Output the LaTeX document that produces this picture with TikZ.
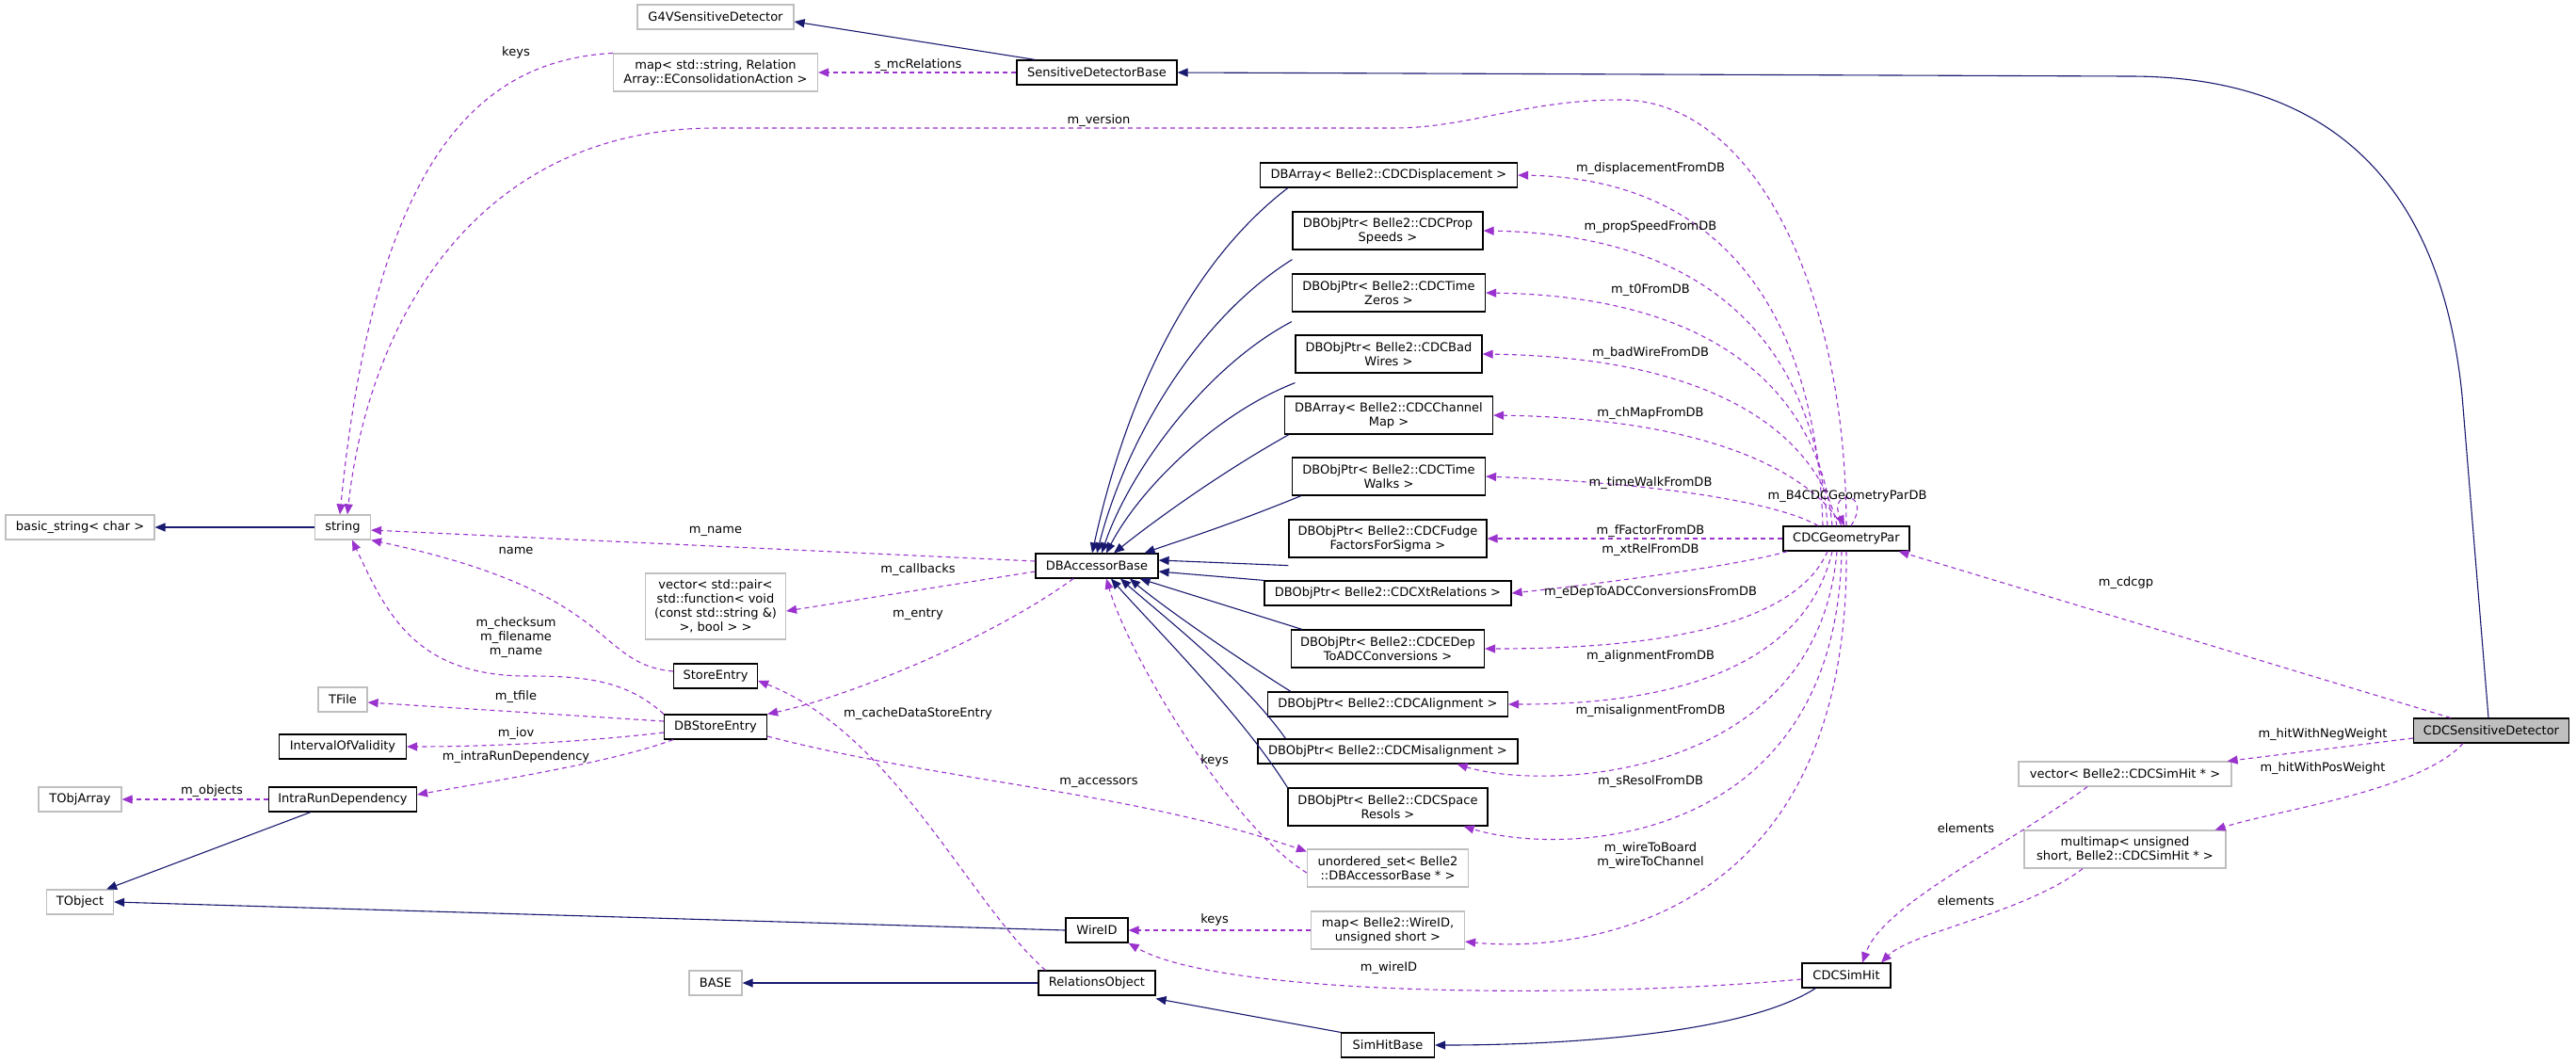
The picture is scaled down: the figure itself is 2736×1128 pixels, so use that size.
\documentclass[tikz,border=0pt]{standalone}
\usepackage{fontspec}
\setmainfont{DejaVu Sans}
\usepackage{tikz}
\usetikzlibrary{arrows.meta}
\definecolor{inhcol}{HTML}{191970}
\definecolor{usecol}{HTML}{9A32CD}
\definecolor{extcol}{HTML}{BFBFBF}

\begin{document}
\begin{tikzpicture}[x=1pt,y=-1pt,
	cls/.style={draw=black, line width=1.2pt, fill=white, inner sep=2pt, minimum height=26, align=center, font=\fontsize{13}{15}\selectfont},
	ext/.style={cls, draw=extcol},
	inh/.style={draw=inhcol, line width=1.1pt, -{Triangle[length=11pt,width=9pt]}},
	use/.style={draw=usecol, line width=1.1pt, dash pattern=on 5pt off 4pt, -{Triangle[length=11pt,width=9pt]}},
	lbl/.style={inner sep=0pt, align=center, font=\fontsize{13}{15}\selectfont}]
	\useasboundingbox (0,0) rectangle (2736,1128);

	\node[ext, minimum width=166] (g4v) at (760,18) {G4VSensitiveDetector};
	\node[ext, minimum width=217, minimum height=40] (rmap) at (760,77) {map< std::string, Relation\\Array::EConsolidationAction >};
	\node[cls, minimum width=170] (sdb) at (1165,77) {SensitiveDetectorBase};
	\node[ext, minimum width=158] (bstr) at (85,560) {basic\_string< char >};
	\node[ext, minimum width=59] (str) at (364,560) {string};
	\node[cls, minimum width=130] (dba) at (1165,601) {DBAccessorBase};
	\node[ext, minimum width=149, minimum height=70] (vpair) at (760,644) {vector< std::pair<\\std::function< void\\(const std::string \&)\\>, bool > >};
	\node[cls, minimum width=89] (se) at (760,718) {StoreEntry};
	\node[cls, minimum width=109] (dse) at (760,772) {DBStoreEntry};
	\node[ext, minimum width=52] (tfile) at (364,743) {TFile};
	\node[cls, minimum width=135] (iov) at (364,793) {IntervalOfValidity};
	\node[ext, minimum width=88] (toa) at (85,849) {TObjArray};
	\node[cls, minimum width=157] (ird) at (364,849) {IntraRunDependency};
	\node[ext, minimum width=71] (tobj) at (85,958) {TObject};
	\node[cls, minimum width=66] (wid) at (1165,988) {WireID};
	\node[ext, minimum width=56] (base) at (760,1044) {BASE};
	\node[cls, minimum width=124] (rob) at (1165,1044) {RelationsObject};

	\node[cls, minimum width=273] (disp) at (1475,186) {DBArray< Belle2::CDCDisplacement >};
	\node[cls, minimum width=202, minimum height=40] (prop) at (1474,245) {DBObjPtr< Belle2::CDCProp\\Speeds >};
	\node[cls, minimum width=205, minimum height=40] (zero) at (1475,311) {DBObjPtr< Belle2::CDCTime\\Zeros >};
	\node[cls, minimum width=198, minimum height=40] (bad) at (1475,376) {DBObjPtr< Belle2::CDCBad\\Wires >};
	\node[cls, minimum width=221, minimum height=40] (chm) at (1475,441) {DBArray< Belle2::CDCChannel\\Map >};
	\node[cls, minimum width=205, minimum height=40] (walk) at (1475,506) {DBObjPtr< Belle2::CDCTime\\Walks >};
	\node[cls, minimum width=210, minimum height=40] (fudge) at (1474,572) {DBObjPtr< Belle2::CDCFudge\\FactorsForSigma >};
	\node[cls, minimum width=262] (xt) at (1474,630) {DBObjPtr< Belle2::CDCXtRelations >};
	\node[cls, minimum width=205, minimum height=40] (edep) at (1474,689) {DBObjPtr< Belle2::CDCEDep\\ToADCConversions >};
	\node[cls, minimum width=255] (align) at (1474,748) {DBObjPtr< Belle2::CDCAlignment >};
	\node[cls, minimum width=276] (mis) at (1474,798) {DBObjPtr< Belle2::CDCMisalignment >};
	\node[cls, minimum width=212, minimum height=40] (spr) at (1474,857) {DBObjPtr< Belle2::CDCSpace\\Resols >};
	\node[ext, minimum width=171, minimum height=40] (uset) at (1474,922) {unordered\_set< Belle2\\::DBAccessorBase * >};
	\node[ext, minimum width=163, minimum height=40] (wmap) at (1474,988) {map< Belle2::WireID,\\unsigned short >};
	\node[cls, minimum width=99] (shb) at (1474,1110) {SimHitBase};

	\node[cls, minimum width=134] (cgp) at (1961,572) {CDCGeometryPar};
	\node[cls, minimum width=94] (csh) at (1961,1036) {CDCSimHit};
	\node[ext, minimum width=226] (vhit) at (2257,822) {vector< Belle2::CDCSimHit * >};
	\node[ext, minimum width=214, minimum height=40] (mmap) at (2257,902) {multimap< unsigned\\short, Belle2::CDCSimHit * >};
	\node[cls, fill=extcol, minimum width=165] (csd) at (2646,776) {CDCSensitiveDetector};

	\draw[inh] ([xshift=20]sdb.north west) -- ([yshift=-5]g4v.east);
	\draw[inh] ([xshift=-3]csd.north) -- (2615,420) .. controls (2590,170) and (2450,81) .. (2262,81) -- (sdb.east);
	\draw[inh] (str.west) -- (bstr.east);
	\draw[inh] ([xshift=30]disp.south west) .. controls (1250,290) and (1190,450) .. ([xshift=-5]dba.north);
	\draw[inh] ([yshift=-10]prop.south west) .. controls (1270,340) and (1195,470) .. ([xshift=0]dba.north);
	\draw[inh] ([yshift=-10]zero.south west) .. controls (1280,390) and (1200,500) .. ([xshift=5]dba.north);
	\draw[inh] ([yshift=-10]bad.south west) .. controls (1290,440) and (1210,520) .. ([xshift=10]dba.north);
	\draw[inh] ([xshift=5]chm.south west) .. controls (1300,500) and (1230,550) .. ([xshift=18]dba.north);
	\draw[inh] ([xshift=10]walk.south west) .. controls (1300,560) and (1250,575) .. ([xshift=-15]dba.north east);
	\draw[inh] ([yshift=-8]fudge.south west) -- ([yshift=6]dba.east);
	\draw[inh] (xt.north west) -- ([yshift=-6]dba.east);
	\draw[inh] ([xshift=12]edep.north west) -- ([xshift=-20]dba.south east);
	\draw[inh] ([xshift=25]align.north west) .. controls (1300,690) and (1230,640) .. ([xshift=35]dba.south);
	\draw[inh] ([xshift=30]mis.north west) .. controls (1320,720) and (1230,650) .. ([xshift=25]dba.south);
	\draw[inh] (spr.north west) .. controls (1320,760) and (1220,660) .. ([xshift=15]dba.south);
	\draw[inh] ([xshift=45]ird.south west) -- ([xshift=-8]tobj.north east);
	\draw[inh] (wid.west) -- (tobj.east);
	\draw[inh] (rob.west) -- (base.east);
	\draw[inh] (shb.north west) -- ([yshift=-3]rob.south east);
	\draw[inh] ([xshift=15]csh.south west) .. controls (1850,1100) and (1650,1110) .. (shb.east);

	\draw[use] (rmap.north west) .. controls (520,64) and (400,150) .. ([xshift=-3]str.north);
	\draw[use] (sdb.west) -- (rmap.east);
	\draw[use] (cgp.north) .. controls (1960,300) and (1860,106) .. (1721,106) .. controls (1620,106) and (1560,136) .. (1480,136) -- (760,136) .. controls (500,136) and (390,350) .. ([xshift=5]str.north);
	\draw[use] ([yshift=5]dba.west) -- ([yshift=-3]str.east);
	\draw[use] ([yshift=5]se.west) .. controls (630,705) and (660,630) .. (str.south east);
	\draw[use] (dse.north west) .. controls (665,722) and (620,718) .. (560,718) .. controls (440,718) and (410,650) .. ([xshift=10]str.south);
	\draw[use] ([yshift=-6]dba.west) -- ([yshift=-5]vpair.east);
	\draw[use] ([xshift=-25]dba.south) .. controls (1050,680) and (900,740) .. (dse.north east);
	\draw[use] ([yshift=6]dse.west) -- ([yshift=-3]tfile.east);
	\draw[use] ([yshift=-6]dse.west) .. controls (620,788) and (520,793) .. (iov.east);
	\draw[use] ([xshift=10]dse.south west) .. controls (650,810) and (520,830) .. ([yshift=5]ird.east);
	\draw[use] (ird.west) -- (toa.east);
	\draw[use] ([xshift=8]rob.north west) .. controls (1030,960) and (950,780) .. ([yshift=-5]se.east);
	\draw[use] ([yshift=-10]dse.east) .. controls (1000,830) and (1200,840) .. ([yshift=-3]uset.north west);
	\draw[use] ([yshift=-5]uset.west) .. controls (1310,880) and (1200,700) .. ([xshift=10]dba.south);
	\draw[use] (wmap.west) -- (wid.east);
	\draw[use] ([yshift=-4]csh.west) .. controls (1700,1060) and (1300,1060) .. (wid.south east);

	\draw[use] ([xshift=-25]cgp.north) .. controls (1930,360) and (1850,190) .. (disp.east);
	\draw[use] ([xshift=-20]cgp.north) .. controls (1930,400) and (1850,250) .. (prop.east);
	\draw[use] ([xshift=-15]cgp.north) .. controls (1935,440) and (1850,315) .. (zero.east);
	\draw[use] ([xshift=-10]cgp.north) .. controls (1935,480) and (1850,380) .. (bad.east);
	\draw[use] ([xshift=-5]cgp.north) .. controls (1935,520) and (1850,445) .. (chm.east);
	\draw[use] ([xshift=-30]cgp.north) .. controls (1900,540) and (1800,515) .. (walk.east);
	\draw[use] ([xshift=5]cgp.north) .. controls (1990,520) and (1940,520) .. ([xshift=-2]cgp.north);
	\draw[use] (cgp.west) -- (fudge.east);
	\draw[use] ([xshift=5]cgp.south west) .. controls (1850,600) and (1700,620) .. (xt.east);
	\draw[use] ([xshift=-20]cgp.south) .. controls (1900,680) and (1700,689) .. (edep.east);
	\draw[use] ([xshift=-15]cgp.south) .. controls (1910,740) and (1700,748) .. (align.east);
	\draw[use] ([xshift=-10]cgp.south) .. controls (1930,830) and (1640,840) .. ([xshift=-65]mis.south east);
	\draw[use] ([xshift=-5]cgp.south) .. controls (1950,900) and (1660,910) .. ([xshift=-26]spr.south east);
	\draw[use] (cgp.south) .. controls (1965,1000) and (1650,1010) .. ([yshift=-12]wmap.east);
	\draw[use] ([xshift=40]csd.north west) -- ([xshift=-12]cgp.south east);
	\draw[use] ([yshift=-8]csd.west) -- ([xshift=-5]vhit.north east);
	\draw[use] ([xshift=-30]csd.south) .. controls (2570,840) and (2420,860) .. ([xshift=-12]mmap.north east);
	\draw[use] ([xshift=-40]vhit.south) .. controls (2130,900) and (2000,960) .. ([xshift=17]csh.north);
	\draw[use] ([xshift=-45]mmap.south) .. controls (2150,970) and (2030,990) .. ([xshift=37]csh.north);

	\node[lbl] at (548,56) {keys};
	\node[lbl] at (975,69) {s\_mcRelations};
	\node[lbl] at (1167,128) {m\_version};
	\node[lbl] at (760,564) {m\_name};
	\node[lbl] at (548,585) {name};
	\node[lbl] at (975,605) {m\_callbacks};
	\node[lbl] at (975,652) {m\_entry};
	\node[lbl] at (548,677) {m\_checksum\\m\_filename\\m\_name};
	\node[lbl] at (548,740) {m\_tfile};
	\node[lbl] at (548,779) {m\_iov};
	\node[lbl] at (548,804) {m\_intraRunDependency};
	\node[lbl] at (225,840) {m\_objects};
	\node[lbl] at (975,758) {m\_cacheDataStoreEntry};
	\node[lbl] at (1167,831) {m\_accessors};
	\node[lbl] at (1290,808) {keys};
	\node[lbl] at (1290,977) {keys};
	\node[lbl] at (1475,1028) {m\_wireID};
	\node[lbl] at (1753,179) {m\_displacementFromDB};
	\node[lbl] at (1753,241) {m\_propSpeedFromDB};
	\node[lbl] at (1753,308) {m\_t0FromDB};
	\node[lbl] at (1753,375) {m\_badWireFromDB};
	\node[lbl] at (1753,439) {m\_chMapFromDB};
	\node[lbl] at (1753,513) {m\_timeWalkFromDB};
	\node[lbl] at (1962,527) {m\_B4CDCGeometryParDB};
	\node[lbl] at (1753,564) {m\_fFactorFromDB};
	\node[lbl] at (1753,584) {m\_xtRelFromDB};
	\node[lbl] at (1753,629) {m\_eDepToADCConversionsFromDB};
	\node[lbl] at (1753,697) {m\_alignmentFromDB};
	\node[lbl] at (1753,755) {m\_misalignmentFromDB};
	\node[lbl] at (1753,830) {m\_sResolFromDB};
	\node[lbl] at (1753,909) {m\_wireToBoard\\m\_wireToChannel};
	\node[lbl] at (2258,619) {m\_cdcgp};
	\node[lbl] at (2467,780) {m\_hitWithNegWeight};
	\node[lbl] at (2467,816) {m\_hitWithPosWeight};
	\node[lbl] at (2088,880) {elements};
	\node[lbl] at (2088,957) {elements};
\end{tikzpicture}
\end{document}
